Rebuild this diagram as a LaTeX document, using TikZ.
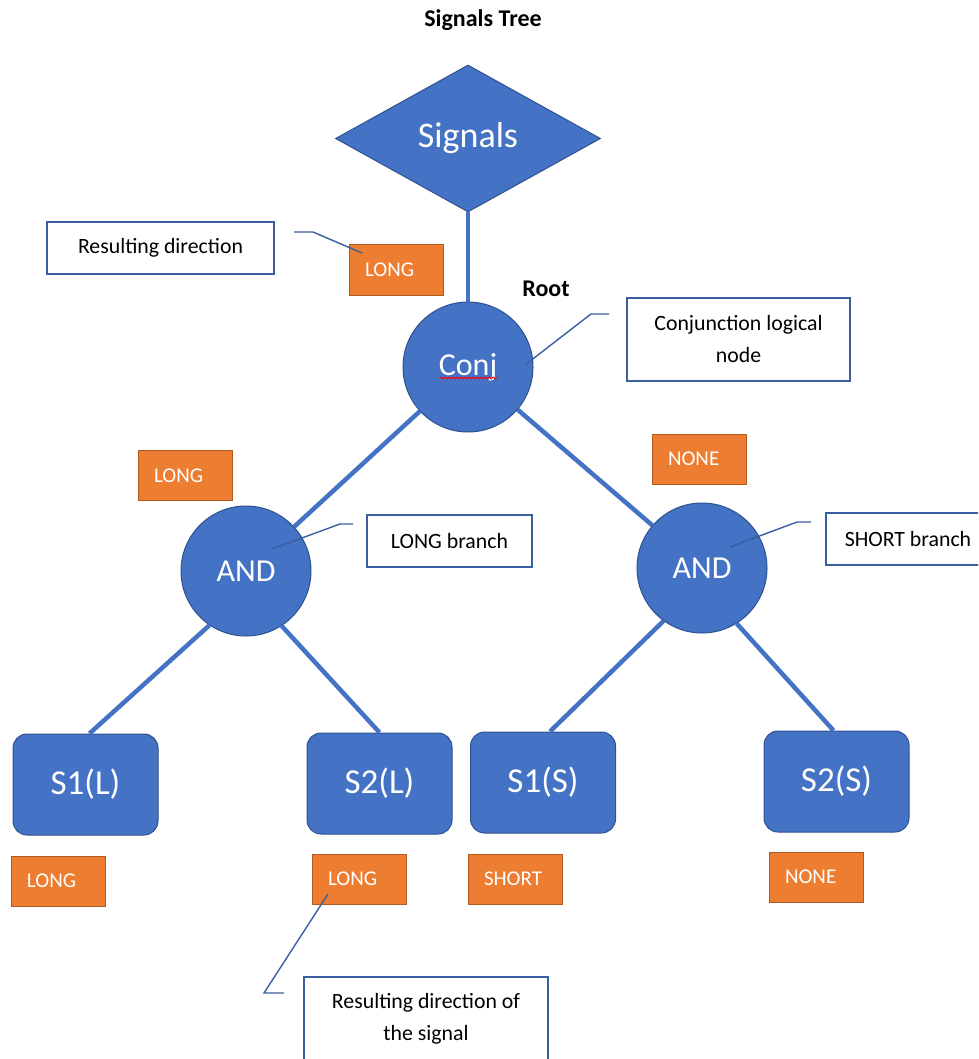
\documentclass[tikz,border=0pt]{standalone}
\usepackage{fontspec}
\setmainfont{Carlito}
\usetikzlibrary{shapes.geometric,decorations.pathmorphing}
\definecolor{oblue}{HTML}{4472C4}
\definecolor{oblueD}{HTML}{2F528F}
\definecolor{oorange}{HTML}{ED7D31}
\definecolor{oorangeD}{HTML}{AE5A21}
\definecolor{cline}{HTML}{3A5F9E}
\tikzset{
  tree/.style={draw=oblue, line width=4.5pt},
  callline/.style={draw=cline, line width=1.4pt},
  bluecirc/.style={circle, fill=oblue, draw=oblueD, line width=1pt, minimum size=130pt, inner sep=0pt, text=white, font=\fontsize{32}{38}\selectfont},
  leaf/.style={rectangle, rounded corners=14pt, fill=oblue, draw=oblueD, line width=1pt, minimum width=145pt, minimum height=101pt, inner sep=0pt, text=white, font=\fontsize{35}{40}\selectfont},
  obox/.style={rectangle, fill=oorange, draw=oorangeD, line width=1pt, text width=62pt, inner xsep=16pt, inner ysep=0pt, minimum height=50pt, align=left, text=white, font=\fontsize{21}{24}\selectfont},
  callbox/.style={rectangle, draw=cline, line width=1.6pt, fill=white, inner sep=0pt, align=center, font=\fontsize{21.8}{32}\selectfont},
}
\begin{document}
\begin{tikzpicture}[x=1pt,y=-1pt]
\useasboundingbox (0,0) rectangle (978,1059);
\clip (0,0) rectangle (978,1059);

\node[font=\bfseries\fontsize{24}{28}\selectfont] (title) at (483,20) {Signals Tree};

\node[diamond, fill=oblue, draw=oblueD, line width=1pt, minimum width=265pt, minimum height=147pt, inner sep=0pt, text=white, font=\fontsize{36}{42}\selectfont] (sig) at (468,138.5) {Signals};

\node[bluecirc] (conj) at (468,367) {Conj};
\node[bluecirc] (andL) at (246,571) {AND};
\node[bluecirc] (andR) at (702,568) {AND};

\node[font=\bfseries\fontsize{24}{28}\selectfont] (root) at (546,289) {Root};

\node[leaf] (s1l) at (85.5,784.5) {S1(L)};
\node[leaf] (s2l) at (379.5,783.5) {S2(L)};
\node[leaf] (s1s) at (543,782.5) {S1(S)};
\node[leaf] (s2s) at (836.5,781.5) {S2(S)};

\draw[tree] (sig.south) -- (conj.north);
\draw[tree] (conj) -- (andL);
\draw[tree] (conj) -- (andR);
\draw[tree] (andL.236) -- ([xshift=4pt]s1l.north);
\draw[tree] (andL.303) -- (s2l.north);
\draw[tree] (andR.234) -- ([xshift=7pt]s1s.north);
\draw[tree] (andR.302) -- ([xshift=-3pt]s2s.north);

\draw[red, line width=0.8pt, decorate, decoration={snake, amplitude=1pt, segment length=4pt}] ([shift={(-28,11)}]conj.center) -- ([shift={(30,11)}]conj.center);

\node[obox] (o1) at (396,270) {LONG};
\node[obox] (o2) at (185,475.5) {LONG};
\node[obox] (o3) at (699,459) {NONE};
\node[obox] (o4) at (58,881) {LONG};
\node[obox] (o5) at (359,879) {LONG};
\node[obox] (o6) at (515,879) {SHORT};
\node[obox] (o7) at (816,877) {NONE};

\node[callbox, minimum width=227pt, minimum height=52pt] (c1) at (160.5,248) {Resulting direction};
\node[callbox, minimum width=223pt, minimum height=83pt] (c2) at (738.5,339.5) {Conjunction logical\\node};
\node[callbox, minimum width=165pt, minimum height=52pt] (c3) at (449.5,541) {LONG branch};
\node[callbox, anchor=west, inner xsep=19pt, minimum height=52pt] (c4) at (825,539) {SHORT branch};
\node[callbox, anchor=north, minimum width=244pt, minimum height=84pt] (c5) at (426,976) {Resulting direction of\\the signal};

\coordinate (a0) at (294,232);
\coordinate (a1) at (313,232);
\coordinate (a2) at (362,253);
\draw[callline] (a0) -- (a1) -- (a2);

\coordinate (b0) at (609,314);
\coordinate (b1) at (591,314);
\coordinate (b2) at (525,365);
\draw[callline] (b0) -- (b1) -- (b2);

\coordinate (d0) at (353,524);
\coordinate (d1) at (340,524);
\coordinate (d2) at (272,549);
\draw[callline] (d0) -- (d1) -- (d2);

\coordinate (e0) at (811,522);
\coordinate (e1) at (797,522);
\coordinate (e2) at (730,547);
\draw[callline] (e0) -- (e1) -- (e2);

\coordinate (f0) at (328,894);
\coordinate (f1) at (264,993);
\coordinate (f2) at (284,993);
\draw[callline] (f0) -- (f1) -- (f2);
\end{tikzpicture}
\end{document}
